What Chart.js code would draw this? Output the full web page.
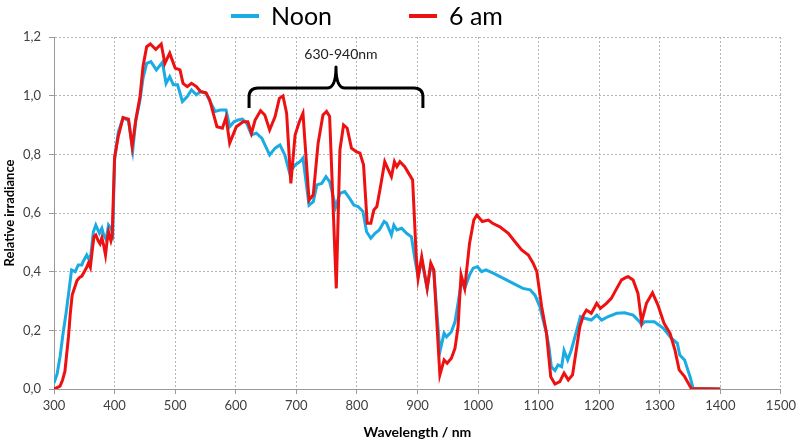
<!DOCTYPE html>
<html><head><meta charset="utf-8">
<script src="https://cdn.jsdelivr.net/npm/chart.js@4/dist/chart.umd.min.js"></script>
<style>html,body{margin:0;padding:0;background:#fff}#wrap{width:800px;height:441px}</style>
</head><body><div id="wrap"><canvas id="c" width="800" height="441"></canvas></div>
<script>
// ---- data ----
const seriesNames = ['Noon', '6 am'];

const noonNm = [300,305,310,315,320,325,329,335,340,346,348,354,358,361,365,369,375,379,382,386,390,394,397,
  400,406,414,423,430,435,442,447,453,460,469,479,485,491,497,504,512,520,527,535,542,551,559,566,574,584,590,597,604,611,618,
  626,634,643,656,665,673,681,689,698,706,711,721,728,734,742,749,755,765,772,780,788,795,802,810,816,823,830,837,845,849,857,861,866,874,882,890,896,
  901,907,916,922,927,937,944,948,956,962,967,973,978,986,992,999,1006,1013,1025,1042,1058,1074,1086,1094,1102,1113,1117,
  1121,1127,1132,1138,1142,1148,1154,1163,1169,1176,1187,1196,1204,1215,1229,1242,1256,1267,1270,1275,1291,1306,1319,1329,1333,1341,1350,1355,1400];
const noonVal = [0.02,0.05,0.11,0.19,0.26,0.34,0.406,0.40,0.423,0.423,0.434,0.457,0.44,0.46,0.536,0.559,0.531,0.548,0.525,0.51,0.559,0.548,0.53,
  0.78,0.875,0.925,0.915,0.815,0.915,0.985,1.06,1.11,1.116,1.088,1.114,1.042,1.065,1.037,1.037,0.98,0.997,1.02,1.003,1.014,1.008,0.974,0.946,0.951,0.951,0.894,0.911,0.917,0.92,0.906,
  0.866,0.872,0.855,0.798,0.821,0.832,0.798,0.736,0.764,0.775,0.787,0.627,0.639,0.696,0.701,0.724,0.707,0.62,0.667,0.673,0.65,0.627,0.622,0.605,0.536,0.514,0.531,0.542,0.571,0.565,0.525,0.559,0.542,0.548,0.531,0.519,0.44,
  0.383,0.44,0.343,0.42,0.40,0.127,0.19,0.178,0.195,0.229,0.292,0.372,0.343,0.389,0.412,0.417,0.40,0.406,0.395,0.377,0.36,0.343,0.338,0.32,0.281,0.19,0.144,
  0.076,0.063,0.082,0.076,0.131,0.099,0.133,0.201,0.247,0.241,0.235,0.252,0.235,0.247,0.258,0.26,0.252,0.229,0.218,0.229,0.229,0.207,0.173,0.156,0.116,0.099,0.042,0.002,0.0];

const amNm = [300,305,310,314,318,321,324,327,330,334,338,342,346,350,354,357,360,363,366,369,373,376,379,382,385,388,390,394,396,
  400,406,414,423,429,435,442,447,453,459,468,477,483,491,500,508,513,520,527,535,542,551,557,563,569,578,584,590,601,612,620,
  626,632,641,648,656,665,672,678,684,691,698,705,711,721,728,736,744,750,755,766,772,778,784,791,799,805,811,817,823,828,833,839,846,852,857,862,866,871,879,887,892,898,
  901,907,916,922,927,937,944,949,956,962,967,972,978,986,993,998,1007,1017,1024,1036,1050,1061,1072,1083,1091,1097,1105,1113,
  1120,1127,1135,1142,1149,1156,1163,1168,1174,1179,1187,1196,1202,1212,1220,1229,1237,1245,1248,1256,1264,1270,1278,1288,1297,1307,1317,1325,1332,1341,1352,1400];
const amVal = [0.0,0.005,0.01,0.03,0.06,0.12,0.18,0.26,0.32,0.345,0.37,0.38,0.385,0.40,0.415,0.43,0.415,0.47,0.52,0.525,0.505,0.495,0.515,0.49,0.457,0.51,0.535,0.505,0.52,
  0.79,0.86,0.925,0.92,0.826,0.917,0.997,1.10,1.167,1.176,1.158,1.176,1.11,1.145,1.094,1.088,1.042,1.031,1.042,1.031,1.014,1.01,0.986,0.94,0.894,0.889,0.926,0.838,0.894,0.911,0.911,
  0.872,0.917,0.949,0.934,0.883,0.929,0.991,0.999,0.94,0.701,0.866,0.911,0.94,0.644,0.662,0.838,0.934,0.946,0.929,0.343,0.815,0.9,0.889,0.821,0.809,0.804,0.764,0.565,0.565,0.61,0.622,0.69,0.775,0.747,0.724,0.775,0.758,0.775,0.758,0.73,0.713,0.451,
  0.377,0.451,0.343,0.429,0.406,0.048,0.099,0.088,0.105,0.139,0.212,0.389,0.343,0.497,0.576,0.593,0.571,0.576,0.565,0.553,0.531,0.502,0.474,0.457,0.429,0.40,0.281,0.19,
  0.042,0.017,0.025,0.054,0.031,0.048,0.144,0.212,0.252,0.269,0.258,0.292,0.275,0.292,0.309,0.343,0.372,0.381,0.383,0.372,0.326,0.229,0.292,0.328,0.286,0.224,0.19,0.133,0.065,0.042,0.002,0.0];

const xTicks = [300,400,500,600,700,800,900,1000,1100,1200,1300,1400,1500];
const yTicks = [0,0.2,0.4,0.6,0.8,1.0,1.2];
const xTitle = 'Wavelength / nm';
const yTitle = 'Relative irradiance';
const bracketText = '630-940nm';
const bracketNm = [622, 909];

// ---- styles ----
const COLORS = {'Noon': '#1aabe3', '6 am': '#ee1111'};
const FONT = 'Lato, "Open Sans", sans-serif';

const legendPlugin = {
  id: 'customLegend',
  afterDraw(chart) {
    const ctx = chart.ctx;
    ctx.save();
    ctx.font = '25px ' + FONT;
    ctx.textBaseline = 'middle';
    const y = 16;
    const items = [{name: seriesNames[0], x: 231}, {name: seriesNames[1], x: 409}];
    items.forEach(it => {
      ctx.strokeStyle = COLORS[it.name];
      ctx.lineWidth = 4;
      ctx.beginPath();
      ctx.moveTo(it.x, y); ctx.lineTo(it.x + 28, y);
      ctx.stroke();
      ctx.fillStyle = '#000';
      ctx.fillText(it.name, it.x + 40, y + 1);
    });
    ctx.restore();
  }
};

const bracketPlugin = {
  id: 'bracket',
  afterDatasetsDraw(chart) {
    const xs = chart.scales.x, ys = chart.scales.y;
    const ctx = chart.ctx;
    const x1 = xs.getPixelForValue(bracketNm[0]);
    const x2 = xs.getPixelForValue(bracketNm[1]);
    const xm = (x1 + x2) / 2;
    const yEnd = ys.getPixelForValue(0.958);
    const yBar = ys.getPixelForValue(1.026);
    const yTip = ys.getPixelForValue(1.098);
    const r = 9;
    ctx.save();
    ctx.strokeStyle = '#000';
    ctx.lineWidth = 3;
    ctx.lineJoin = 'round';
    ctx.beginPath();
    ctx.moveTo(x1, yEnd);
    ctx.lineTo(x1, yBar + r);
    ctx.quadraticCurveTo(x1, yBar, x1 + r, yBar);
    ctx.lineTo(xm - r, yBar);
    ctx.quadraticCurveTo(xm, yBar, xm, yTip);
    ctx.quadraticCurveTo(xm, yBar, xm + r, yBar);
    ctx.lineTo(x2 - r, yBar);
    ctx.quadraticCurveTo(x2, yBar, x2, yBar + r);
    ctx.lineTo(x2, yEnd);
    ctx.stroke();
    ctx.fillStyle = '#222';
    ctx.font = '14px ' + FONT;
    ctx.textAlign = 'center';
    ctx.textBaseline = 'middle';
    ctx.fillText(bracketText, xm + 5, ys.getPixelForValue(1.139));
    ctx.restore();
  }
};

const mk = (nm, val) => nm.map((x, i) => ({x: x, y: val[i]}));

new Chart(document.getElementById('c'), {
  type: 'line',
  data: {
    datasets: [
      {label: seriesNames[1], data: mk(amNm, amVal), borderColor: COLORS['6 am'], backgroundColor: COLORS['6 am'], borderWidth: 3, pointRadius: 0, tension: 0},
      {label: seriesNames[0], data: mk(noonNm, noonVal), borderColor: COLORS['Noon'], backgroundColor: COLORS['Noon'], borderWidth: 3, pointRadius: 0, tension: 0}
    ]
  },
  options: {
    responsive: false,
    devicePixelRatio: 1,
    animation: false,
    layout: {padding: {left: 0, right: 19, top: 37, bottom: 0}},
    plugins: {legend: {display: false}, tooltip: {enabled: false}},
    scales: {
      x: {
        type: 'linear', min: 300, max: 1500,
        afterBuildTicks: s => { s.ticks = xTicks.map(v => ({value: v})); },
        afterFit: s => { s.height = 52; },
        grid: {color: '#b5b5b5', tickColor: '#999', tickLength: 5, lineWidth: 1},
        border: {color: '#999', width: 1, dash: [2, 2]},
        ticks: {color: '#404040', font: {family: FONT, size: 13}, padding: 4, maxRotation: 0, autoSkip: false,
          callback: v => String(v)},
        title: {display: true, text: xTitle, color: '#000', font: {family: FONT, size: 14, weight: 'bold'}, padding: {top: 1, bottom: 0}}
      },
      y: {
        type: 'linear', min: 0, max: 1.2,
        afterBuildTicks: s => { s.ticks = yTicks.map(v => ({value: v})); },
        afterFit: s => { s.width = 54; },
        grid: {color: '#b5b5b5', tickColor: '#999', tickLength: 5, lineWidth: 1},
        border: {color: '#999', width: 1, dash: [2, 2]},
        ticks: {color: '#404040', font: {family: FONT, size: 13}, padding: 8,
          callback: v => v.toFixed(1).replace('.', ',')},
        title: {display: true, text: yTitle, color: '#000', font: {family: FONT, size: 13, weight: 'bold'}, padding: {top: 2, bottom: 2}}
      }
    }
  },
  plugins: [legendPlugin, bracketPlugin]
});
</script>
</body></html>
